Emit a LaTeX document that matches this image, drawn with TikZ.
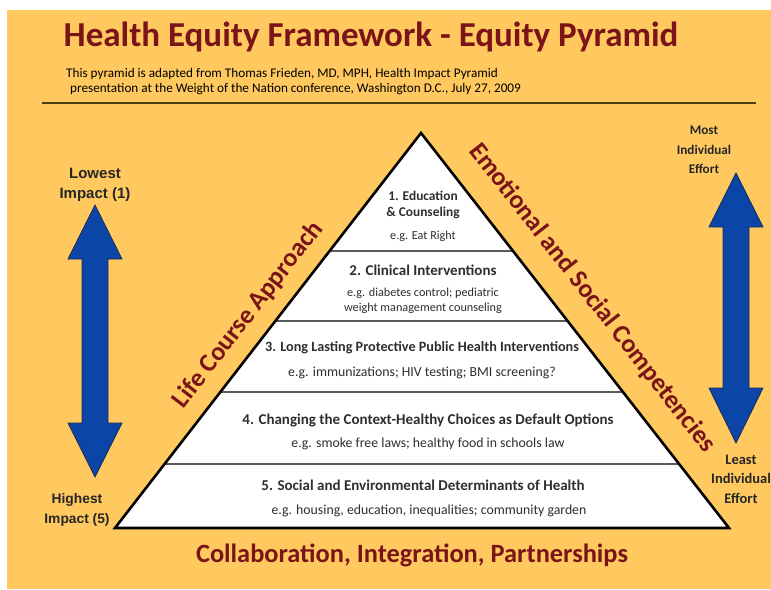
\documentclass[tikz,border=0pt]{standalone}
\usepackage{fontspec}
\setmainfont{Carlito}
\newfontfamily\arialf{Liberation Sans}
\usetikzlibrary{calc}
\definecolor{bgorange}{HTML}{FFC95F}
\definecolor{maroon}{HTML}{7A1418}
\definecolor{arrowblue}{HTML}{0B45A8}
\definecolor{arrowedge}{HTML}{1C2B4F}
\definecolor{rulecol}{HTML}{4D3F10}
\definecolor{bandtext}{HTML}{2E2E2E}
\tikzset{
  bigred/.style={text=maroon, font=\fontsize{26}{28}\selectfont\bfseries, inner sep=0pt},
  bandtitle/.style={text=bandtext, font=\fontsize{15}{16}\selectfont\bfseries, inner sep=0pt, align=center},
  bandnote/.style={text=bandtext, font=\fontsize{13.8}{14}\selectfont, inner sep=0pt, align=center},
  sidelabel/.style={text=black!85, font=\fontsize{13.2}{19.5}\selectfont\bfseries, inner sep=0pt, align=center},
  bluearrow/.style={fill=arrowblue, draw=arrowedge, line width=0.8pt, line join=miter},
  bandline/.style={draw=black!65, line width=1.3pt},
}
\begin{document}
\begin{tikzpicture}[x=1pt,y=-1pt]
\useasboundingbox (0,0) rectangle (771,589);
\fill[white] (0,0) rectangle (771,589);
\fill[bgorange] (7,10) rectangle (771,589);

% title
\node[text=maroon, font=\fontsize{35}{38}\selectfont\bfseries, inner sep=0pt] (title) at (371,37) {Health Equity Framework - Equity Pyramid};
\node[anchor=west, font=\fontsize{13.2}{15}\selectfont, inner sep=0pt, align=left] (sub) at (66,82)
  {This pyramid is adapted from Thomas Frieden, MD, MPH, Health Impact Pyramid\\
   \hspace*{4pt}presentation at the Weight of the Nation conference, Washington D.C., July 27, 2009};
\coordinate (ruleL) at (42,103);
\coordinate (ruleR) at (756,103);
\draw[rulecol, line width=1.6pt] (ruleL) -- (ruleR);

% pyramid
\coordinate (A) at (421,133);
\coordinate (BL) at (115,528);
\coordinate (BR) at (729,528);
\fill[white] (A) -- (BL) -- (BR) -- cycle;
\foreach \t/\n in {0.2987/1, 0.4759/2, 0.6557/3, 0.8380/4}{
  \coordinate (l\n) at ($(A)!\t!(BL)$);
  \coordinate (r\n) at ($(A)!\t!(BR)$);
  \draw[bandline] (l\n) -- (r\n);
}
\draw[black, line width=2.6pt, line join=miter] (A) -- (BL) -- (BR) -- cycle;

% band texts
\node[bandtitle, font=\fontsize{13.4}{16}\selectfont\bfseries] (b1t) at (423,205) {1. Education\\\& Counseling};
\node[bandnote, font=\fontsize{12.2}{12}\selectfont] (b1n) at (423,236) {e.g. Eat Right};
\node[bandtitle] (b2t) at (423,270) {2. Clinical Interventions};
\node[bandnote, font=\fontsize{12.2}{14.5}\selectfont] (b2n) at (423,301) {e.g. diabetes control; pediatric\\weight management counseling};
\node[bandtitle, font=\fontsize{14.2}{16}\selectfont\bfseries] (b3t) at (422,348) {3. Long Lasting Protective Public Health Interventions};
\node[bandnote] (b3n) at (422,373) {e.g. immunizations; HIV testing; BMI screening?};
\node[bandtitle] (b4t) at (428,420) {4. Changing the Context-Healthy Choices as Default Options};
\node[bandnote] (b4n) at (428,444) {e.g. smoke free laws; healthy food in schools law};
\node[bandtitle] (b5t) at (423,485) {5. Social and Environmental Determinants of Health};
\node[bandnote] (b5n) at (429,511) {e.g. housing, education, inequalities; community garden};

% side texts along the pyramid
\node[bigred, rotate=52.2] (life) at (248,315) {Life Course Approach};
\node[bigred, rotate=-52.0] (emo) at (592,298) {Emotional and Social Competencies};

% bottom text
\node[bigred, font=\fontsize{26.4}{28}\selectfont\bfseries] (collab) at (412,555) {Collaboration, Integration, Partnerships};

% left arrow
\draw[bluearrow] (95,205) -- (122,259) -- (108,259) -- (108,423) -- (122,423) -- (95,477)
  -- (68,423) -- (82,423) -- (82,259) -- (68,259) -- cycle;
\node[sidelabel, font=\arialf\fontsize{15}{20}\selectfont\bfseries] (lowest) at (95,185) {Lowest\\Impact (1)};
\node[sidelabel, font=\arialf\fontsize{13.8}{19.5}\selectfont\bfseries] (highest) at (77,510) {Highest\\Impact (5)};

% right arrow
\draw[bluearrow] (736,173) -- (763,227) -- (749,227) -- (749,388) -- (763,388) -- (736,443)
  -- (709,388) -- (723,388) -- (723,227) -- (709,227) -- cycle;
\node[sidelabel] (most) at (704,150) {Most\\Individual\\Effort};
\node[sidelabel, font=\fontsize{14.5}{19.5}\selectfont\bfseries] (least) at (741,479) {Least\\Individual\\Effort};
\end{tikzpicture}
\end{document}
